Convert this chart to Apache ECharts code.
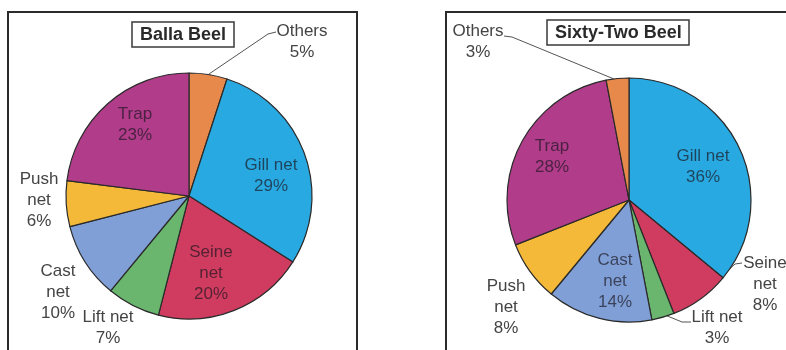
<!DOCTYPE html>
<html>
<head>
<meta charset="utf-8">
<script src="https://cdn.jsdelivr.net/npm/echarts@6/dist/echarts.min.js"></script>
<style>
html,body{margin:0;padding:0;background:#fff;}
#chart{width:786px;height:350px;}
</style>
</head>
<body>
<div id="chart"></div>
<script>
// ---- data ----
const ballaTitle = 'Balla Beel';
const ballaCategories = ['Others', 'Gill net', 'Seine net', 'Lift net', 'Cast net', 'Push net', 'Trap'];
const ballaValues = [5, 29, 20, 7, 10, 6, 23];

const sixtyTitle = 'Sixty-Two Beel';
const sixtyCategories = ['Gill net', 'Seine net', 'Lift net', 'Cast net', 'Push net', 'Trap', 'Others'];
const sixtyValues = [36, 8, 3, 14, 8, 28, 3];

// ---- styles ----
const colorMap = {
  'Others': '#E8894C',
  'Gill net': '#29A9E1',
  'Seine net': '#D03C5F',
  'Lift net': '#6BB66E',
  'Cast net': '#7F9FD6',
  'Push net': '#F4B938',
  'Trap': '#B03C8A'
};
const labelText = {
  'Others': 'Others',
  'Gill net': 'Gill net',
  'Seine net': 'Seine\nnet',
  'Lift net': 'Lift net',
  'Cast net': 'Cast\nnet',
  'Push net': 'Push\nnet',
  'Trap': 'Trap'
};
const ballaInside = ['Trap', 'Gill net', 'Seine net'];
const sixtyInside = ['Trap', 'Gill net', 'Cast net'];

// label placement (pixel, centre of text block) and leader lines
const ballaLabelPos = {
  'Others': [302, 42], 'Gill net': [271, 176], 'Seine net': [211, 273],
  'Lift net': [108, 328], 'Cast net': [58, 292], 'Push net': [39, 200], 'Trap': [135, 125]
};
const ballaLines = {
  'Others': [[209, 74], [268, 34], [276, 32]]
};
const sixtyLabelPos = {
  'Others': [478, 42], 'Gill net': [703, 167], 'Seine net': [765, 284],
  'Lift net': [717, 328], 'Cast net': [615, 281], 'Push net': [506, 307], 'Trap': [552, 157]
};
const sixtyLines = {
  'Others': [[614, 79], [512, 37], [504, 36]],
  'Seine net': [[723, 275], [735, 264], [742, 263]],
  'Lift net': [[665, 315], [682, 322], [691, 322]]
};

function buildData(cats, vals, inside, lines) {
  return cats.map((c, i) => ({
    name: c,
    value: vals[i],
    itemStyle: { color: colorMap[c] },
    label: inside.indexOf(c) >= 0
      ? { position: 'inside', color: 'rgba(25,20,30,0.68)' }
      : { position: 'outside', color: '#444' },
    labelLine: { show: !!lines[c] }
  }));
}

const labelBase = {
  show: true,
  fontFamily: 'Liberation Sans, Arial, sans-serif',
  fontSize: 17,
  lineHeight: 21,
  align: 'center',
  formatter: p => labelText[p.name] + '\n' + p.value + '%'
};

function makeLayout(cats, posMap, lines) {
  return function (params) {
    const name = cats[params.dataIndex];
    const p = posMap[name];
    const r = { x: p[0], y: p[1], align: 'center', verticalAlign: 'middle' };
    if (lines[name]) r.labelLinePoints = lines[name];
    return r;
  };
}

const chart = echarts.init(document.getElementById('chart'), null, { renderer: 'canvas' });

const titleBase = {
  textStyle: { fontFamily: 'Liberation Sans, Arial, sans-serif', fontSize: 18, fontWeight: 'bold', color: '#2a2a2a' },
  borderColor: '#3a3a3a',
  borderWidth: 1.5,
  padding: [4, 8, 3, 8],
  backgroundColor: '#fff'
};

chart.setOption({
  backgroundColor: '#fff',
  animation: false,
  title: [
    Object.assign({ text: ballaTitle, left: 132, top: 22 }, titleBase),
    Object.assign({ text: sixtyTitle, left: 547, top: 20 }, titleBase)
  ],
  graphic: [
    { type: 'rect', shape: { x: 8, y: 12, width: 349, height: 360 }, style: { fill: 'none', stroke: '#2b2b2b', lineWidth: 2 }, z: 0 },
    { type: 'rect', shape: { x: 446, y: 12, width: 360, height: 360 }, style: { fill: 'none', stroke: '#2b2b2b', lineWidth: 2 }, z: 0 }
  ],
  series: [
    {
      type: 'pie',
      center: [189, 196],
      radius: 123,
      startAngle: 90,
      clockwise: true,
      avoidLabelOverlap: false,
      itemStyle: { borderColor: '#2a2a2a', borderWidth: 1.2 },
      label: labelBase,
      labelLine: { lineStyle: { color: '#555', width: 1 } },
      labelLayout: makeLayout(ballaCategories, ballaLabelPos, ballaLines),
      emphasis: { disabled: true },
      data: buildData(ballaCategories, ballaValues, ballaInside, ballaLines)
    },
    {
      type: 'pie',
      center: [629, 200],
      radius: 122,
      startAngle: 90,
      clockwise: true,
      avoidLabelOverlap: false,
      itemStyle: { borderColor: '#2a2a2a', borderWidth: 1.2 },
      label: labelBase,
      labelLine: { lineStyle: { color: '#555', width: 1 } },
      labelLayout: makeLayout(sixtyCategories, sixtyLabelPos, sixtyLines),
      emphasis: { disabled: true },
      data: buildData(sixtyCategories, sixtyValues, sixtyInside, sixtyLines)
    }
  ]
});
</script>
</body>
</html>
